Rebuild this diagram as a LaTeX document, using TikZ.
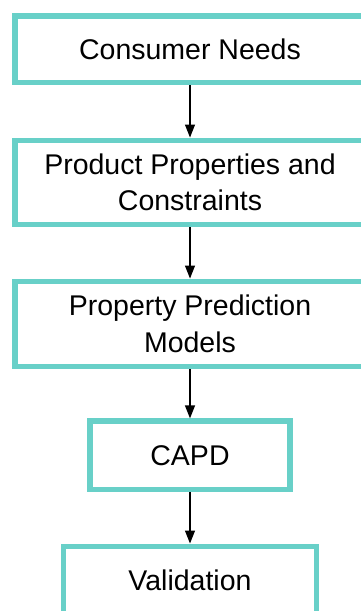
\documentclass[tikz,border=0pt]{standalone}
\usepackage{fontspec}
\setmainfont{Liberation Sans}
\usepackage{tikz}
\usetikzlibrary{arrows.meta, positioning}
\definecolor{boxteal}{RGB}{104,208,200}

\begin{document}
\begin{tikzpicture}[x=1pt, y=-1pt]

        % Setup the style for the boxes
        \tikzset{box style/.style={rectangle,
                                   draw=boxteal,
                                   line width=5.5pt,
                                   fill=white,
                                   align=center,
                                   minimum width=350pt,
                                   font=\fontsize{28.5}{36.7}\selectfont}}

        \useasboundingbox (0, 0) rectangle (360, 611);

        % Draw the boxes
        \node[box style, minimum height=66.7pt] at (190, 49.3)  (needs)  {Consumer Needs};
        \node[box style, minimum height=84.2pt] at (190, 182.4) (props)  {Product Properties and\\Constraints};
        \node[box style, minimum height=85pt]   at (190, 323.8) (models) {Property Prediction\\Models};
        \node[box style, minimum width=199.7pt,
              minimum height=68.3pt]            at (190, 455.3) (capd)   {CAPD};
        \node[box style, minimum width=253.4pt,
              minimum height=67.5pt]            at (190, 580)   (valid)  {Validation};

        % Connect the boxes with arrows
        \draw[line width=1.2pt,
              >={Triangle[width=10pt, length=13pt]},
              draw=black]
            (needs)  edge[->] (props)
            (props)  edge[->] (models)
            (models) edge[->] (capd)
            (capd)   edge[->] (valid)
            ;
\end{tikzpicture}
\end{document}
